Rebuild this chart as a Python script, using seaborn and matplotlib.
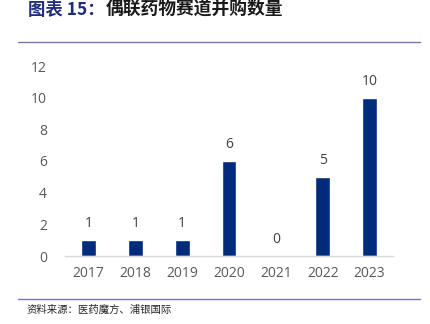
import matplotlib
matplotlib.use("Agg")
import matplotlib.pyplot as plt
import seaborn as sns
import pandas as pd
from matplotlib.lines import Line2D

years = ["2017", "2018", "2019", "2020", "2021", "2022", "2023"]
deals = [1, 1, 1, 6, 0, 5, 10]
y_ticks = [0, 2, 4, 6, 8, 10, 12]

title_prefix = "图表 15："
title_main = "偶联药物赛道并购数量"
source_note = "资料来源：医药魔方、浦银国际"

sns.set_theme(style="white")
plt.rcParams["font.family"] = ["Open Sans", "Noto Sans CJK SC", "DejaVu Sans"]

df = pd.DataFrame({"year": years, "deals": deals})

fig = plt.figure(figsize=(4.31, 3.24), dpi=100)
ax = fig.add_axes([65 / 431, 68 / 324, 328 / 431, 190 / 324])

navy = "#002B7A"
sns.barplot(data=df, x="year", y="deals", color=navy, width=0.32,
            saturation=1, ax=ax)

ax.set_ylim(0, 12)
ax.set_yticks(y_ticks)
ax.set_xlabel("")
ax.set_ylabel("")
for s in ["top", "right", "left"]:
    ax.spines[s].set_visible(False)
ax.spines["bottom"].set_color("#D9D9D9")
ax.spines["bottom"].set_linewidth(1.0)
ax.tick_params(axis="both", length=0, labelsize=10, labelcolor="#595959")
ax.tick_params(axis="x", pad=7)
ax.tick_params(axis="y", pad=13)

for i, v in enumerate(deals):
    ax.text(i, v + 0.55, str(v), ha="center", va="bottom",
            fontsize=10, color="#404040")

# Heading
fig.text(28 / 431, 1 - 10 / 324, title_prefix, ha="left", va="center",
         fontsize=12.5, fontweight="bold", color="#1F2D7A",
         family=["Noto Sans CJK SC"])
fig.text(106 / 431, 1 - 10 / 324, title_main, ha="left", va="center",
         fontsize=12.8, fontweight="bold", color="#1A1A1A",
         family=["Noto Sans CJK SC"])

rule_color = "#7E73AE"
fig.add_artist(Line2D([18 / 431, 420 / 431], [1 - 42 / 324, 1 - 42 / 324],
                      color=rule_color, linewidth=1.0))
fig.add_artist(Line2D([18 / 431, 420 / 431], [1 - 299 / 324, 1 - 299 / 324],
                      color=rule_color, linewidth=1.0))

fig.text(27 / 431, 1 - 310 / 324, source_note, ha="left", va="center",
         fontsize=7.5, color="#262626", family=["Noto Sans CJK SC"])

fig.savefig("out.png", dpi=100)
